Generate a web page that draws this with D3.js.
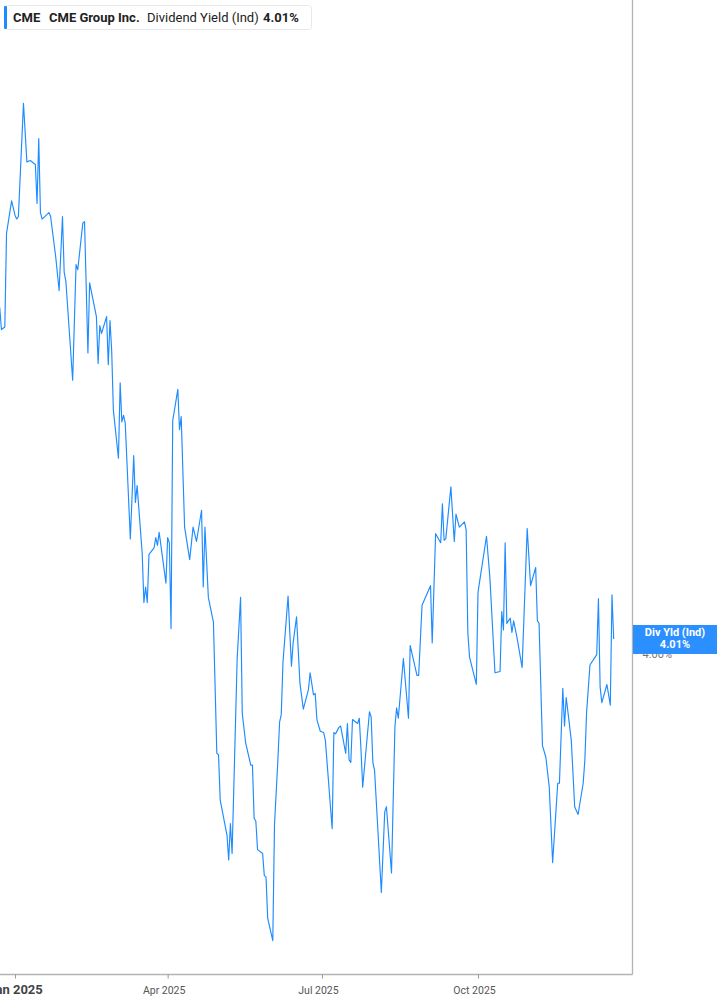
<!DOCTYPE html>
<html>
<head>
<meta charset="utf-8">
<script src="https://cdn.jsdelivr.net/npm/d3@7"></script>
<style>
  html, body { margin: 0; padding: 0; background: #fff; }
  svg { display: block; font-family: Roboto, "Noto Sans", sans-serif; }
</style>
</head>
<body>
<svg id="chart" width="717" height="1005"></svg>
<script>
const dates = [
"2024-12-23","2024-12-24","2024-12-26","2024-12-27","2024-12-30","2025-01-01","2025-01-02","2025-01-03","2025-01-06","2025-01-08",
"2025-01-10","2025-01-13","2025-01-14","2025-01-15","2025-01-16","2025-01-17","2025-01-21","2025-01-22","2025-01-25","2025-01-27",
"2025-01-29","2025-01-30","2025-01-31","2025-02-04","2025-02-06","2025-02-07","2025-02-10","2025-02-11","2025-02-13","2025-02-14",
"2025-02-18","2025-02-19","2025-02-20","2025-02-21","2025-02-24","2025-02-25","2025-02-26","2025-02-27","2025-02-28","2025-03-03",
"2025-03-04","2025-03-05","2025-03-06","2025-03-07","2025-03-10","2025-03-12","2025-03-13","2025-03-14","2025-03-17","2025-03-18",
"2025-03-19","2025-03-20","2025-03-21","2025-03-24","2025-03-25","2025-03-26","2025-03-27","2025-03-31","2025-04-01","2025-04-02",
"2025-04-03","2025-04-04","2025-04-07","2025-04-08","2025-04-09","2025-04-11","2025-04-14","2025-04-16","2025-04-18","2025-04-21",
"2025-04-22","2025-04-23","2025-04-25","2025-04-28","2025-04-30","2025-05-01","2025-05-02","2025-05-06","2025-05-07","2025-05-08",
"2025-05-09","2025-05-12","2025-05-14","2025-05-15","2025-05-17","2025-05-20","2025-05-21","2025-05-22","2025-05-23","2025-05-24",
"2025-05-27","2025-05-28","2025-05-29","2025-05-30","2025-06-02","2025-06-03","2025-06-05","2025-06-06","2025-06-07","2025-06-08",
"2025-06-11","2025-06-13","2025-06-14","2025-06-16","2025-06-18","2025-06-20","2025-06-23","2025-06-24","2025-06-26","2025-06-27",
"2025-06-28","2025-06-30","2025-07-02","2025-07-03","2025-07-07","2025-07-08","2025-07-09","2025-07-11","2025-07-12","2025-07-15",
"2025-07-16","2025-07-17","2025-07-18","2025-07-19","2025-07-22","2025-07-23","2025-07-24","2025-07-25","2025-07-29","2025-07-30",
"2025-07-31","2025-08-01","2025-08-05","2025-08-07","2025-08-08","2025-08-11","2025-08-13","2025-08-14","2025-08-15","2025-08-18",
"2025-08-21","2025-08-22","2025-08-26","2025-08-27","2025-08-29","2025-09-03","2025-09-04","2025-09-06","2025-09-09","2025-09-10",
"2025-09-11","2025-09-12","2025-09-15","2025-09-17","2025-09-18","2025-09-20","2025-09-23","2025-09-24","2025-09-25","2025-09-26",
"2025-09-30","2025-10-01","2025-10-06","2025-10-08","2025-10-11","2025-10-14","2025-10-15","2025-10-16","2025-10-17","2025-10-18",
"2025-10-20","2025-10-21","2025-10-22","2025-10-24","2025-10-27","2025-10-30","2025-11-01","2025-11-04","2025-11-05","2025-11-06",
"2025-11-08","2025-11-10","2025-11-12","2025-11-14","2025-11-17","2025-11-18","2025-11-20","2025-11-21","2025-11-22","2025-11-25",
"2025-11-27","2025-11-29","2025-12-02","2025-12-03","2025-12-04","2025-12-06","2025-12-10","2025-12-11","2025-12-12","2025-12-13",
"2025-12-16","2025-12-18","2025-12-19","2025-12-20"
];
const divYield = [
4.265,4.248,4.250,4.322,4.347,4.336,4.333,4.335,4.422,4.377,
4.378,4.375,4.345,4.395,4.338,4.333,4.338,4.335,4.304,4.278,
4.335,4.292,4.285,4.209,4.298,4.294,4.330,4.331,4.230,4.284,
4.258,4.222,4.251,4.245,4.258,4.221,4.255,4.232,4.186,4.149,
4.207,4.177,4.182,4.176,4.087,4.151,4.115,4.128,4.076,4.038,
4.050,4.038,4.075,4.080,4.088,4.082,4.092,4.053,4.088,4.084,
4.018,4.178,4.202,4.171,4.181,4.096,4.071,4.096,4.085,4.109,
4.050,4.096,4.042,4.023,3.922,3.921,3.886,3.859,3.840,3.868,
3.845,3.995,4.042,3.953,3.930,3.913,3.913,3.872,3.870,3.848,
3.845,3.828,3.827,3.795,3.778,3.867,3.917,3.946,3.952,3.992,
4.043,3.989,4.007,4.027,3.976,3.956,3.971,3.984,3.967,3.968,
3.948,3.939,3.938,3.932,3.864,3.938,3.937,3.942,3.943,3.922,
3.945,3.917,3.915,3.948,3.945,3.949,3.925,3.896,3.954,3.950,
3.915,3.909,3.815,3.877,3.881,3.830,3.942,3.957,3.949,3.995,
3.949,4.005,3.982,3.982,4.036,4.051,4.007,4.091,4.084,4.114,
4.086,4.087,4.127,4.085,4.106,4.096,4.100,4.094,4.015,3.996,
3.975,4.046,4.089,4.057,3.984,3.985,4.031,4.017,4.084,4.022,
4.026,4.015,4.024,4.011,3.988,4.095,4.051,4.065,4.024,4.022,
3.928,3.919,3.896,3.838,3.899,3.899,3.972,3.943,3.965,3.932,
3.881,3.875,3.899,3.917,3.953,3.990,3.998,4.041,3.973,3.961,
3.975,3.959,4.044,4.010
];
const xTickDates = ["2025-01-01","2025-04-01","2025-07-01","2025-10-01"];
const xTickLabels = ["Jan 2025","Apr 2025","Jul 2025","Oct 2025"];
const yTickValues = [4.00];
const legendTicker = "CME";
const legendName = "CME Group Inc.";
const legendField = "Dividend Yield (Ind)";
const tagTitle = "Div Yld (Ind)";
const lastValueLabel = "4.01%";

const parse = d3.timeParse("%Y-%m-%d");
const data = dates.map((d, i) => ({ date: parse(d), value: divYield[i] }));

const W = 717, H = 1005;
const plotRight = 632.5, plotBottom = 974.5;
const blue = "#1e8bff";

const svg = d3.select("#chart");

const x = d3.scaleTime()
  .domain([new Date(2024, 11, 23, 3, 45), new Date(2025, 11, 30, 19, 0)])
  .range([0, 632]);
const y = d3.scaleLinear()
  .domain([3.7523, 4.5015])
  .range([974, 0]);

// clip
svg.append("defs").append("clipPath").attr("id", "plotclip")
  .append("rect").attr("x", 0).attr("y", 0).attr("width", 632).attr("height", 974);

// line
const line = d3.line().x(d => x(d.date)).y(d => y(d.value));
svg.append("path")
  .datum(data)
  .attr("clip-path", "url(#plotclip)")
  .attr("fill", "none")
  .attr("stroke", blue)
  .attr("stroke-width", 1.15)
  .attr("stroke-linejoin", "round")
  .attr("d", line);

// right border
svg.append("line")
  .attr("x1", plotRight).attr("x2", plotRight)
  .attr("y1", 0).attr("y2", plotBottom)
  .attr("stroke", "#b3b3b3").attr("stroke-width", 1.3);

// x axis
const tickMap = new Map(xTickDates.map((d, i) => [+parse(d), xTickLabels[i]]));
const xAxis = d3.axisBottom(x)
  .tickValues(xTickDates.map(parse))
  .tickSizeInner(4)
  .tickSizeOuter(0)
  .tickPadding(8)
  .tickFormat(d => tickMap.get(+d));
const gx = svg.append("g")
  .attr("transform", `translate(0,${plotBottom})`)
  .call(xAxis);
gx.select(".domain").attr("stroke", "#b3b3b3").attr("stroke-width", 1.3)
  .attr("d", `M0,0H${plotRight}`);
gx.selectAll(".tick line").attr("stroke", "#999");
gx.selectAll(".tick text")
  .attr("fill", "#555")
  .attr("font-family", "Roboto, sans-serif")
  .attr("font-size", "10.5px")
  .attr("dx", "-4px");
gx.selectAll(".tick").filter((d, i) => i === 0).select("text")
  .attr("font-size", "13px")
  .attr("font-weight", "bold")
  .attr("fill", "#444")
  .attr("dx", "0px")
  .attr("y", 10);

// y axis (right)
const yAxis = d3.axisRight(y)
  .tickValues(yTickValues)
  .tickSize(0)
  .tickPadding(10)
  .tickFormat(d => d3.format(".2f")(d) + "%");
const gy = svg.append("g")
  .attr("transform", `translate(${plotRight},0)`)
  .call(yAxis);
gy.select(".domain").remove();
gy.selectAll(".tick text")
  .attr("fill", "#777")
  .attr("font-family", "Roboto, sans-serif")
  .attr("font-size", "11px")
  .attr("dy", "0.5em");

// last value tag
const last = data[data.length - 1];
const tagY = y(last.value);
const tag = svg.append("g");
tag.append("rect")
  .attr("x", 633).attr("y", tagY - 14)
  .attr("width", W - 633).attr("height", 29)
  .attr("fill", "#2b8fff");
tag.append("text")
  .attr("x", 675).attr("y", tagY - 2.5)
  .attr("text-anchor", "middle")
  .attr("fill", "#fff").attr("font-weight", "bold")
  .attr("font-size", "11px")
  .text(tagTitle);
tag.append("text")
  .attr("x", 675).attr("y", tagY + 9.5)
  .attr("text-anchor", "middle")
  .attr("fill", "#fff").attr("font-weight", "bold")
  .attr("font-size", "11px")
  .text(d3.format(".2f")(last.value) + "%");

// legend
const lg = svg.append("g");
lg.append("rect")
  .attr("x", 4.5).attr("y", 5.5).attr("width", 307).attr("height", 24)
  .attr("rx", 3).attr("fill", "#fff").attr("stroke", "#e8e8e8");
lg.append("rect")
  .attr("x", 4).attr("y", 6).attr("width", 3).attr("height", 23)
  .attr("rx", 1).attr("fill", blue);
const lt = lg.append("text").attr("y", 21.5).attr("font-size", "13px").attr("fill", "#222");
lt.append("tspan").attr("x", 13).attr("font-weight", "bold").text(legendTicker);
lt.append("tspan").attr("x", 49).attr("font-weight", "bold").text(legendName);
lt.append("tspan").attr("x", 147).attr("font-weight", "normal").text(legendField);
lt.append("tspan").attr("x", 263).attr("font-weight", "bold").text(lastValueLabel);
</script>
</body>
</html>
